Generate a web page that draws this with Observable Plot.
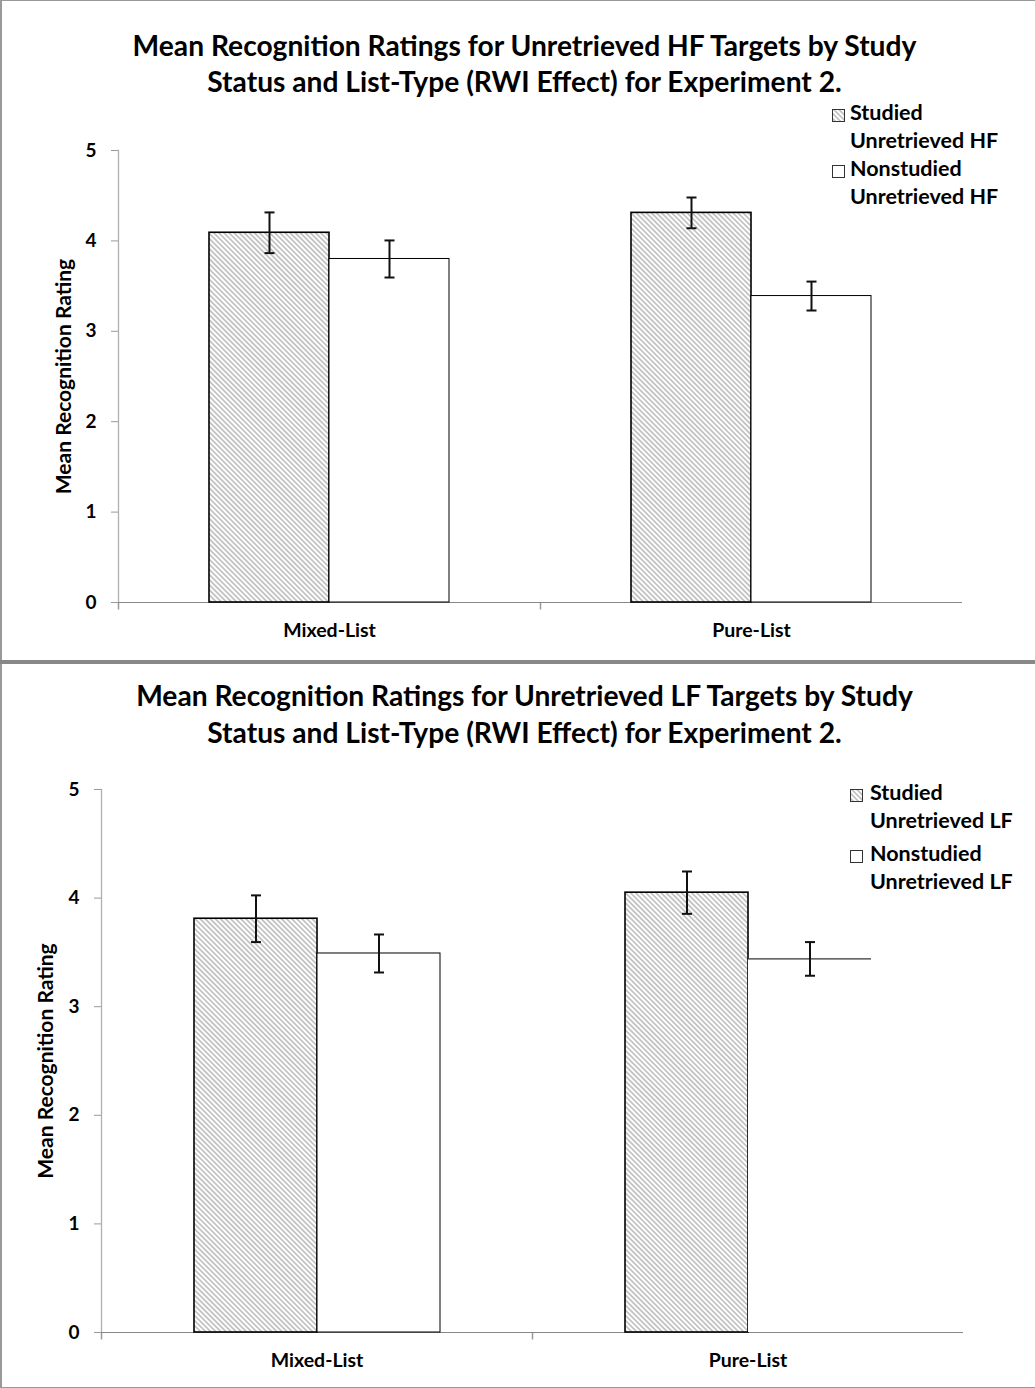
<!DOCTYPE html>
<html><head><meta charset="utf-8">
<script src="https://cdn.jsdelivr.net/npm/d3@7"></script>
<script src="https://cdn.jsdelivr.net/npm/@observablehq/plot@0.6"></script>
<style>
body{margin:0;background:#fff;font-family:Lato,"Open Sans",sans-serif;}
#wrap{position:relative;width:1035px;height:1388px;overflow:hidden;background:#fff;}
.abs{position:absolute;}
.title{position:absolute;left:0;width:1049px;text-align:center;font-weight:bold;font-size:28.2px;line-height:36px;color:#000;white-space:nowrap;}
.leg{position:absolute;font-weight:bold;font-size:21.5px;line-height:28px;color:#000;white-space:nowrap;}
.sw{position:absolute;width:13px;height:13px;}
</style></head><body><div id="wrap"></div>
<script>
// ---- data ----
const listTypes = ["Mixed-List", "Pure-List"];
const statuses = ["Studied", "Nonstudied"];
// order: Mixed/Studied, Mixed/Nonstudied, Pure/Studied, Pure/Nonstudied
const hfMeans = [4.09, 3.80, 4.31, 3.39];
const hfErrors = [0.225, 0.205, 0.17, 0.16];
const lfMeans = [3.81, 3.49, 4.05, 3.44];
const lfErrors = [0.215, 0.175, 0.195, 0.155];
const yTicks = [0, 1, 2, 3, 4, 5];
const hfTitle = ["Mean Recognition Ratings for Unretrieved HF Targets by Study", "Status and List-Type (RWI Effect) for Experiment 2."];
const lfTitle = ["Mean Recognition Ratings for Unretrieved LF Targets by Study", "Status and List-Type (RWI Effect) for Experiment 2."];
const hfLegend = [["Studied", "Unretrieved HF"], ["Nonstudied", "Unretrieved HF"]];
const lfLegend = [["Studied", "Unretrieved LF"], ["Nonstudied", "Unretrieved LF"]];
const yLabel = "Mean Recognition Rating";

function rowsOf(means, errs) {
  return means.map((m, i) => ({list: listTypes[Math.floor(i / 2)], status: statuses[i % 2], mean: m, err: errs[i]}));
}

const capSym = {draw(ctx) { ctx.moveTo(-5, 0); ctx.lineTo(5, 0); }};
const downTick = {draw(ctx) { ctx.moveTo(0, 0); ctx.lineTo(0, 7); }};

function fillPattern(sel, id) {
  const p = sel.append("pattern")
    .attr("id", id).attr("patternUnits", "userSpaceOnUse")
    .attr("width", 3.6).attr("height", 3.6).attr("patternTransform", "rotate(-45)");
  p.append("rect").attr("width", 3.6).attr("height", 3.6).attr("fill", "#fff");
  p.append("line").attr("x1", 0.9).attr("y1", -1).attr("x2", 0.9).attr("y2", 5)
    .attr("stroke", "#b8b8b8").attr("stroke-width", 1.5);
}

function chart(rows, cfg) {
  const studied = rows.filter(d => d.status === "Studied");
  const non = rows.filter(d => d.status === "Nonstudied");
  const nonMarks = cfg.openLast
    ? [
        Plot.barY(non.filter(d => d.list !== "Pure-List"), {fx: "list", x: "status", y: "mean", fill: "#fff", stroke: "#000", strokeWidth: 1}),
        Plot.barY(non.filter(d => d.list === "Pure-List"), {fx: "list", x: "status", y: "mean", fill: "#fff"}),
        Plot.tickY(non.filter(d => d.list === "Pure-List"), {fx: "list", x: "status", y: "mean", stroke: "#000", strokeWidth: 1})
      ]
    : [Plot.barY(non, {fx: "list", x: "status", y: "mean", fill: "#fff", stroke: "#000", strokeWidth: 1})];
  const svg = Plot.plot({
    width: 1035, height: cfg.height,
    marginLeft: cfg.ml, marginRight: cfg.mr, marginTop: cfg.mt, marginBottom: cfg.mb,
    style: {fontFamily: "Lato, 'Open Sans', sans-serif", fontWeight: "bold", color: "#000", background: "transparent", overflow: "visible"},
    fx: {domain: listTypes, padding: 0, label: null},
    x: {domain: statuses, paddingInner: 0, paddingOuter: 0.745, axis: null},
    y: {domain: [0, 5], label: null},
    marks: [
      Plot.axisY({ticks: yTicks, tickFormat: "d", tickSize: 7, tickPadding: 15, stroke: "#999", fontSize: 19,
        label: null}),
      Plot.axisY({ticks: [], tickSize: 0, fontSize: 21, label: yLabel, labelAnchor: "center", labelOffset: cfg.lo, labelArrow: "none"}),
      Plot.axisFx({anchor: "bottom", tickSize: 0, tickPadding: 21, fontSize: 19.5, label: null}),
      Plot.frame({anchor: "left", facetAnchor: "left", stroke: "#b0b0b0", strokeWidth: 1.3}),
      Plot.dot([0], {x: null, y: null, frameAnchor: "bottom-left", symbol: downTick, stroke: "#999", r: 3}),
      Plot.ruleY([0], {stroke: "#888"}),
      Plot.barY(studied, {fx: "list", x: "status", y: "mean", fill: `url(#${cfg.pid})`, stroke: "#000", strokeWidth: 1.6}),
      ...nonMarks,
      Plot.ruleX(rows, {fx: "list", x: "status", y1: d => d.mean - d.err, y2: d => d.mean + d.err, stroke: "#111", strokeWidth: 2}),
      Plot.dot(rows, {fx: "list", x: "status", y: d => d.mean + d.err, symbol: capSym, stroke: "#111", strokeWidth: 2, r: 3}),
      Plot.dot(rows, {fx: "list", x: "status", y: d => d.mean - d.err, symbol: capSym, stroke: "#111", strokeWidth: 2, r: 3})
    ]
  });
  fillPattern(d3.select(svg).insert("defs", ":first-child"), cfg.pid);
  return svg;
}

function swatch(hatched, pid) {
  const s = d3.create("svg").attr("width", 13).attr("height", 13);
  fillPattern(s.append("defs"), pid);
  s.append("rect").attr("x", 0.5).attr("y", 0.5).attr("width", 12).attr("height", 12)
    .attr("fill", hatched ? `url(#${pid})` : "#fff").attr("stroke", "#333").attr("stroke-width", 1);
  return s.node();
}

const wrap = document.getElementById("wrap");
function el(cls, style, html) {
  const d = document.createElement("div");
  d.className = cls; Object.assign(d.style, style); if (html != null) d.textContent = html;
  wrap.appendChild(d); return d;
}

// frames
el("abs", {left: "0px", top: "0px", width: "1035px", height: "660px", borderLeft: "2px solid #999", borderTop: "1px solid #999", boxSizing: "border-box"});
el("abs", {left: "0px", top: "660px", width: "1035px", height: "4px", background: "#888"});
el("abs", {left: "0px", top: "664px", width: "1035px", height: "724px", borderLeft: "2px solid #999", borderBottom: "1px solid #999", boxSizing: "border-box"});

// panel 1
const p1 = el("abs", {left: "0px", top: "0px"});
p1.appendChild(chart(rowsOf(hfMeans, hfErrors), {height: 660, ml: 118, mr: 73, mt: 150, mb: 58, lo: 62, pid: "hatch1"}));
el("title", {top: "27px"}, hfTitle[0]);
el("title", {top: "63px"}, hfTitle[1]);

// panel 2
const p2 = el("abs", {left: "0px", top: "664px"});
p2.appendChild(chart(rowsOf(lfMeans, lfErrors), {height: 724, ml: 101, mr: 72, mt: 125, mb: 56, lo: 63, pid: "hatch2", openLast: true}));
el("title", {top: "677px"}, lfTitle[0]);
el("title", {top: "714px"}, lfTitle[1]);

// legends
function legend(items, sx, tx, ys, pidBase) {
  items.forEach((lines, i) => {
    const sw = el("sw", {left: sx + "px", top: (ys[i][0] - 6) + "px"});
    sw.appendChild(swatch(i === 0, pidBase + i));
    el("leg", {left: tx + "px", top: (ys[i][0] - 14) + "px"}, lines[0]);
    el("leg", {left: tx + "px", top: (ys[i][1] - 14) + "px"}, lines[1]);
  });
}
legend(hfLegend, 832, 850, [[112, 140], [168, 196]], "lg1");
legend(lfLegend, 850, 870, [[792, 820], [853, 881]], "lg2");
</script></body></html>
